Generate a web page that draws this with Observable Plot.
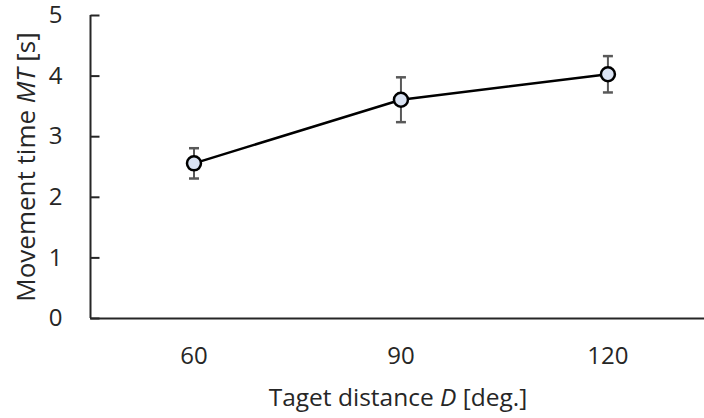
<!DOCTYPE html>
<html>
<head>
<meta charset="utf-8">
<script src="https://cdn.jsdelivr.net/npm/d3@7"></script>
<script src="https://cdn.jsdelivr.net/npm/@observablehq/plot@0.6"></script>
<style>
  html, body { margin: 0; padding: 0; background: #fff; }
  #chart svg { display: block; }
  #chart g[aria-label="y-axis tick label"],
  #chart g[aria-label="x-axis tick label"] { font-size: 24px; }
</style>
</head>
<body>
<div id="chart"></div>
<script>
// Target distance (deg.) and movement time (s): mean ± error
const distances = [60, 90, 120];
const meanMT = [2.56, 3.61, 4.03];
const errMT = [0.25, 0.37, 0.30];
const yTicks = [0, 1, 2, 3, 4, 5];

const rows = distances.map((d, i) => ({
  D: d,
  mt: meanMT[i],
  lo: meanMT[i] - errMT[i],
  hi: meanMT[i] + errMT[i]
}));

// horizontal dash symbol (caps and inward ticks), half-width = r
const dash = {
  draw(ctx, size) {
    const w = Math.sqrt(size / Math.PI);
    ctx.moveTo(-w, 0);
    ctx.lineTo(w, 0);
  }
};

const font = "'Open Sans', sans-serif";
const ink = "#262626";

const chart = Plot.plot({
  width: 704,
  height: 418,
  marginLeft: 90,
  marginRight: 0,
  marginTop: 15,
  marginBottom: 100,
  style: { fontFamily: font, fontSize: "24px", color: ink, background: "#fff" },
  x: { domain: [45, 134], axis: null },
  y: { domain: [0, 5], axis: null },
  marks: [
    Plot.axisY(yTicks, { tickSize: 0, tickPadding: 28, tickFormat: d3.format("d"), label: null }),
    Plot.axisX(distances, { tickSize: 0, tickPadding: 28, tickFormat: d3.format("d"), label: null }),
    // inward tick marks on the y axis
    Plot.dot(yTicks, { x: () => 45, y: d => d, symbol: dash, r: 4.5, dx: 4.5, stroke: ink, strokeWidth: 2 }),
    Plot.ruleX([45], { y1: 0, y2: 5, stroke: ink, strokeWidth: 2 }),
    Plot.ruleY([0], { stroke: ink, strokeWidth: 2 }),
    // error bars
    Plot.ruleX(rows, { x: "D", y1: "lo", y2: "hi", stroke: "#595959", strokeWidth: 2 }),
    Plot.dot(rows, { x: "D", y: "lo", symbol: dash, r: 5, stroke: "#595959", strokeWidth: 2.5 }),
    Plot.dot(rows, { x: "D", y: "hi", symbol: dash, r: 5, stroke: "#595959", strokeWidth: 2.5 }),
    // mean line and markers
    Plot.line(rows, { x: "D", y: "mt", stroke: "#000", strokeWidth: 2.5 }),
    Plot.dot(rows, { x: "D", y: "mt", r: 7, fill: "#dae3f3", stroke: "#000", strokeWidth: 2.5 })
  ]
});

document.getElementById("chart").appendChild(chart);

// axis titles with italic symbols
const svg = d3.select(chart);
const yTitle = svg.append("text")
  .attr("transform", "translate(25,167) rotate(-90)")
  .attr("text-anchor", "middle")
  .attr("dominant-baseline", "central")
  .attr("fill", ink)
  .style("font-family", font)
  .style("font-size", "26px");
yTitle.append("tspan").text("Movement time ");
yTitle.append("tspan").attr("font-style", "italic").text("MT");
yTitle.append("tspan").text(" [s]");

const xTitle = svg.append("text")
  .attr("x", 398)
  .attr("y", 396)
  .attr("text-anchor", "middle")
  .attr("dominant-baseline", "central")
  .attr("fill", ink)
  .style("font-family", font)
  .style("font-size", "24.5px");
xTitle.append("tspan").text("Taget distance ");
xTitle.append("tspan").attr("font-style", "italic").text("D");
xTitle.append("tspan").text(" [deg.]");
</script>
</body>
</html>
